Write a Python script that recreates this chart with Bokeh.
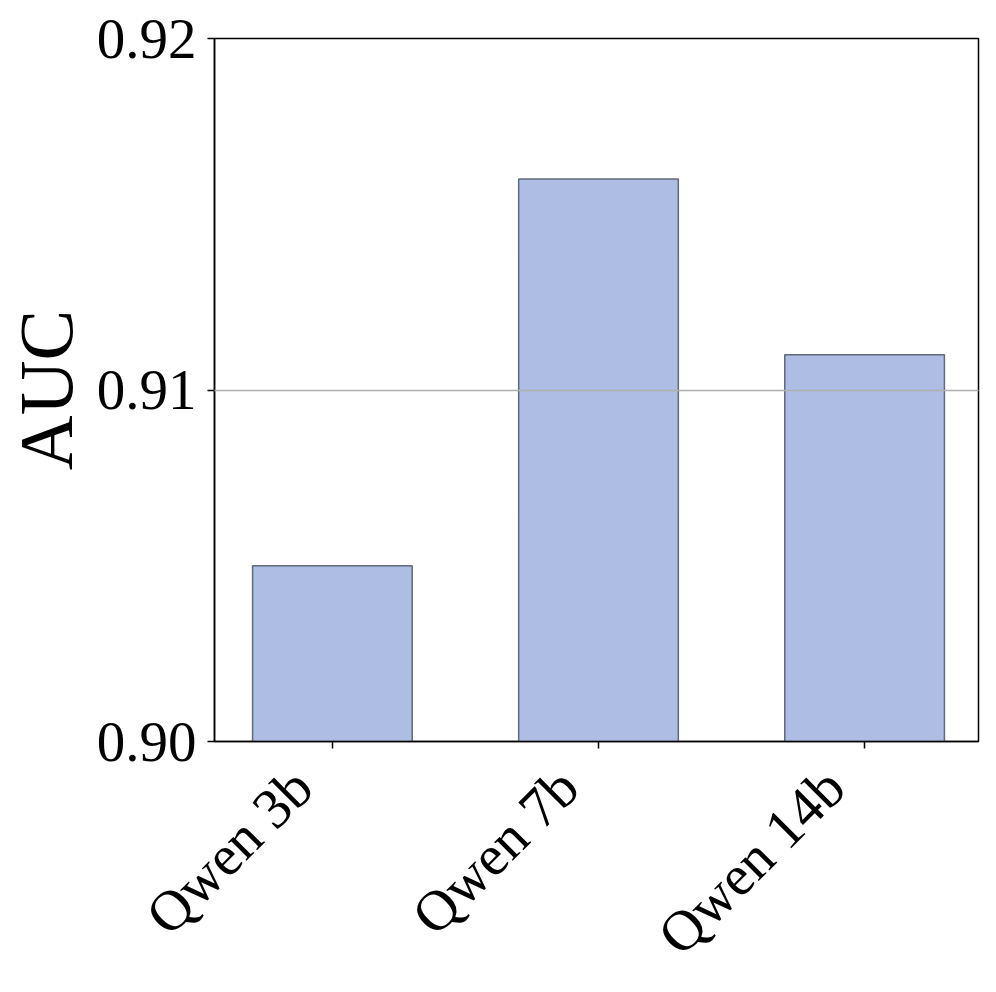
import math
from bokeh.plotting import figure
from bokeh.models import (FixedTicker, Range1d, ColumnDataSource, NumeralTickFormatter,
                          LinearAxis)
from bokeh.embed import file_html
from bokeh.resources import INLINE

models = ["Qwen 3b", "Qwen 7b", "Qwen 14b"]
auc = [0.905, 0.916, 0.911]
y_ticks = [0.90, 0.91, 0.92]

xs = list(range(len(models)))
src = ColumnDataSource(dict(x=xs, top=auc, bottom=[y_ticks[0]] * len(auc)))

x0, x1 = -0.443, len(models) - 1 + 0.428
shift = 0.113  # horizontal offset of the rotated category labels (layout only)

p = figure(width=988, height=991, output_backend="svg", toolbar_location=None,
           x_range=Range1d(x0, x1),
           y_range=Range1d(y_ticks[0], y_ticks[-1]),
           min_border_left=213, min_border_top=38, min_border_right=10, min_border_bottom=250)
p.extra_x_ranges = {"lab": Range1d(x0 + shift, x1 + shift)}
p.border_fill_color = "white"
p.background_fill_color = "white"
p.outline_line_color = "black"
p.outline_line_width = 1.5

p.vbar(x="x", top="top", bottom="bottom", width=0.6, source=src,
       fill_color="#aebde3", line_color="#4d5563", line_alpha=0.85, line_width=1.5)

p.xaxis.ticker = FixedTicker(ticks=xs)
p.xaxis.major_label_overrides = {i: "" for i in xs}
p.xaxis.major_label_text_font_size = "0px"
p.xaxis.major_label_standoff = 0

lab_axis = LinearAxis(x_range_name="lab", ticker=FixedTicker(ticks=xs),
                      major_label_overrides={i: m for i, m in zip(xs, models)},
                      major_label_orientation=math.pi / 4,
                      axis_line_color=None, major_tick_line_color=None,
                      minor_tick_line_color=None, major_tick_out=0, major_tick_in=0,
                      major_label_standoff=29,
                      major_label_text_font="Liberation Serif",
                      major_label_text_font_size="57px",
                      major_label_text_color="black")
p.add_layout(lab_axis, "below")

p.yaxis.ticker = FixedTicker(ticks=y_ticks)
p.yaxis.formatter = NumeralTickFormatter(format="0.00")
p.yaxis.axis_label = "AUC"

for ax in (p.xaxis[0], p.yaxis[0]):
    ax.axis_line_color = "black"
    ax.axis_line_width = 1.5
    ax.major_tick_line_color = "black"
    ax.major_tick_line_width = 1.5
    ax.major_tick_out = 7
    ax.major_tick_in = 0
    ax.minor_tick_line_color = None
p.yaxis.major_label_text_font = "Liberation Serif"
p.yaxis.major_label_text_font_size = "57px"
p.yaxis.major_label_text_color = "black"
p.yaxis.major_label_standoff = 11
p.yaxis.axis_label_text_font = "Liberation Serif"
p.yaxis.axis_label_text_font_size = "76px"
p.yaxis.axis_label_text_font_style = "normal"
p.yaxis.axis_label_text_color = "black"
p.yaxis.axis_label_standoff = 6

p.xgrid.grid_line_color = None
p.ygrid.grid_line_color = "#b0b0b0"
p.ygrid.grid_line_width = 1.5
p.ygrid.level = "overlay"

open("out.html", "w").write(file_html(p, INLINE))
